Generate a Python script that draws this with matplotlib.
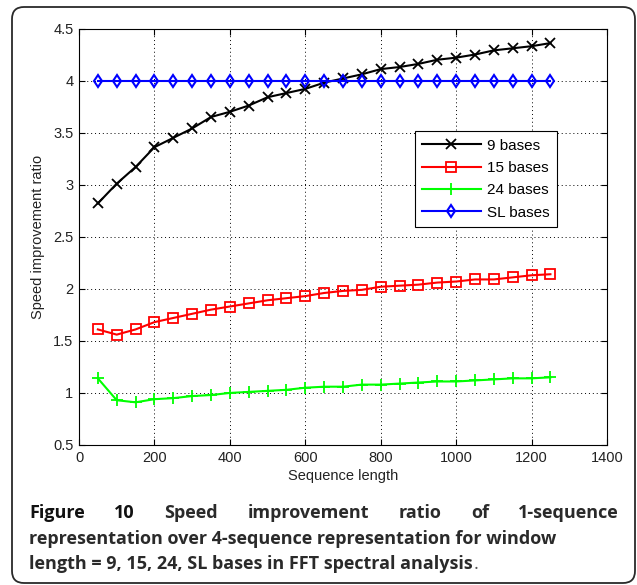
import numpy as np
import matplotlib
matplotlib.use("Agg")
from matplotlib import pyplot as plt
from matplotlib.patches import FancyBboxPatch

# data
seq_len = [50, 100, 150, 200, 250, 300, 350, 400, 450, 500, 550, 600, 650,
           700, 750, 800, 850, 900, 950, 1000, 1050, 1100, 1150, 1200, 1250]
bases9 = [2.82, 3.01, 3.17, 3.36, 3.45, 3.54, 3.65, 3.70, 3.76, 3.84, 3.88, 3.92, 3.98,
          4.02, 4.06, 4.11, 4.13, 4.16, 4.20, 4.22, 4.25, 4.29, 4.31, 4.33, 4.36]
bases15 = [1.61, 1.56, 1.61, 1.68, 1.72, 1.76, 1.80, 1.83, 1.86, 1.89, 1.91, 1.93, 1.96,
           1.98, 1.99, 2.02, 2.03, 2.04, 2.06, 2.07, 2.09, 2.09, 2.11, 2.13, 2.14]
bases24 = [1.14, 0.93, 0.91, 0.94, 0.95, 0.97, 0.98, 1.00, 1.01, 1.02, 1.03, 1.05, 1.06,
           1.06, 1.08, 1.08, 1.09, 1.10, 1.11, 1.11, 1.12, 1.13, 1.14, 1.14, 1.15]
basesSL = [4.0] * 25
labels = ["9 bases", "15 bases", "24 bases", "SL bases"]

xticks = [0, 200, 400, 600, 800, 1000, 1200, 1400]
yticks = [0.5, 1, 1.5, 2, 2.5, 3, 3.5, 4, 4.5]
caption1 = ["Figure", "10", "Speed", "improvement", "ratio", "of", "1-sequence"]
caption2 = "representation over 4-sequence representation for window"
caption3 = "length = 9, 15, 24, SL bases in FFT spectral analysis"

W, H = 637, 585
fig = plt.figure(figsize=(W / 100, H / 100), dpi=100)

# background axes in pixel coords for border + caption
bg = fig.add_axes([0, 0, 1, 1])
bg.set_xlim(0, W)
bg.set_ylim(H, 0)
bg.axis('off')
box = FancyBboxPatch((12, 7), 623, 576, boxstyle="round,pad=0,rounding_size=12",
                     fill=False, ec='#2a2a2a', lw=1.3, clip_on=False)
bg.add_patch(box)

tick_font = 'Liberation Sans'
ax = fig.add_axes([79 / W, 1 - 445 / H, 528 / W, 416.5 / H])
ax.plot(seq_len, bases9, color='black', marker='x', ms=7, mew=1.3, lw=1.5, label=labels[0])
ax.plot(seq_len, bases15, color='red', marker='s', ms=7, mfc='none', mew=1.3, lw=1.5, label=labels[1])
ax.plot(seq_len, bases24, color='#00ff00', marker='+', ms=9, mew=1.3, lw=1.5, label=labels[2])
ax.plot(seq_len, basesSL, color='blue', marker='d', ms=6.5, mfc='none', mew=1.5, lw=1.5, label=labels[3])

ax.set_xlim(0, 1400)
ax.set_ylim(0.5, 4.5)
ax.set_xticks(xticks)
ax.set_yticks(yticks)
ax.set_yticklabels([('%g' % v) for v in yticks])
ax.grid(True, color='black', linestyle=(0, (1, 3)), lw=0.7)
ax.tick_params(direction='in', top=True, right=True, length=4, width=0.8,
               labelsize=10.5, labelcolor='#222222', pad=4)
for lab in ax.get_xticklabels() + ax.get_yticklabels():
    lab.set_family(tick_font)
for s in ax.spines.values():
    s.set_linewidth(0.8)
ax.set_xlabel("Sequence length", fontsize=10.5, family=tick_font, color='#222222', labelpad=3)
ax.set_ylabel("Speed improvement ratio", fontsize=10.5, family=tick_font, color='#222222', labelpad=6)

leg = ax.legend(loc='upper left', bbox_to_anchor=(0.636, 0.754), numpoints=1, fancybox=False,
                framealpha=1, edgecolor='black', handlelength=3.8, labelspacing=0.55,
                borderpad=0.5, handletextpad=0.4, borderaxespad=0,
                prop={'family': tick_font, 'size': 11})
leg.get_frame().set_linewidth(0.8)

# caption
cap_font = 'Open Sans'
cap_size = 13
left_px, right_px = 29, 619
fig.canvas.draw()
r = fig.canvas.get_renderer()
words = []
for i, wd in enumerate(caption1):
    t = bg.text(0, 513, wd, fontsize=cap_size, family=cap_font,
                weight='bold', va='center', ha='left',
                color='#111111' if i < 2 else '#2a2a2a')
    words.append(t)
widths = [t.get_window_extent(r).width for t in words]
gap = (right_px - left_px - sum(widths)) / (len(words) - 1)
pos = left_px
for t, wdt in zip(words, widths):
    t.set_x(pos)
    pos += wdt + gap
bg.text(left_px, 539, caption2, fontsize=cap_size, family=cap_font, weight='bold',
        va='center', ha='left', color='#2a2a2a')
t3 = bg.text(left_px, 564, caption3, fontsize=cap_size, family=cap_font, weight='bold',
             va='center', ha='left', color='#2a2a2a')
fig.canvas.draw()
end3 = t3.get_window_extent(r).x1
bg.text(end3 + 1, 564, ".", fontsize=cap_size, family=cap_font,
        va='center', ha='left', color='#555555')

fig.savefig("out.png", dpi=100)
